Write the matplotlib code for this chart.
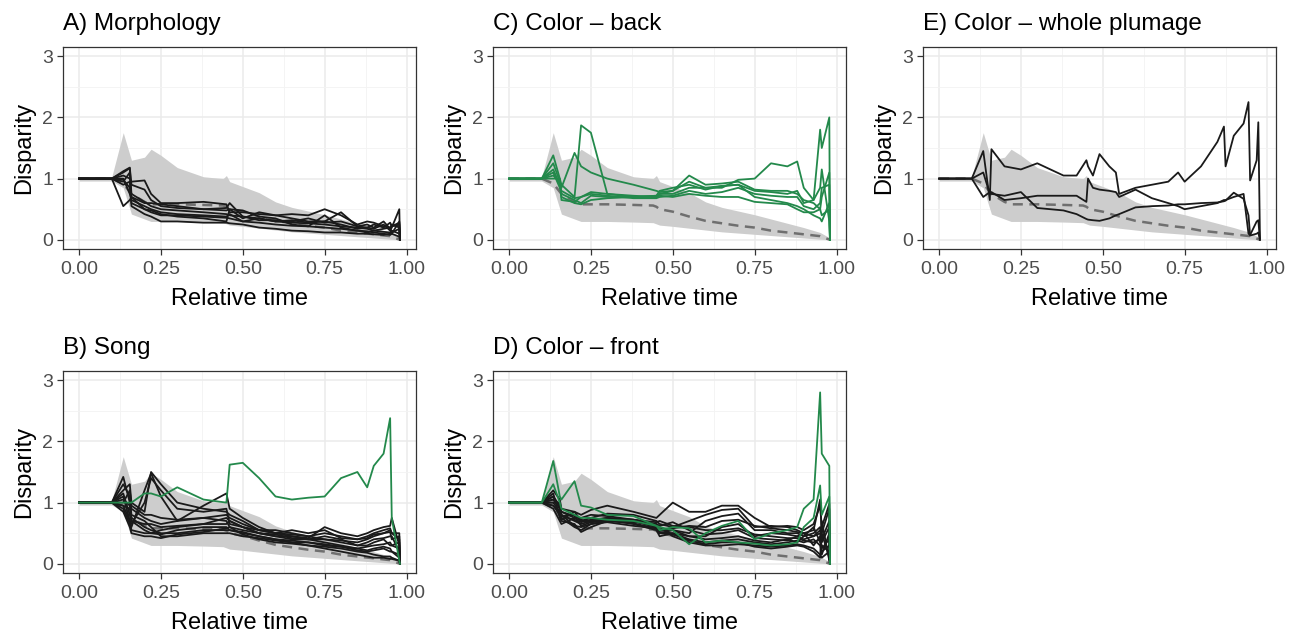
import matplotlib
matplotlib.use("Agg")
import matplotlib.pyplot as plt
from matplotlib.ticker import MultipleLocator

plt.rcParams['font.family'] = ['Liberation Sans', 'DejaVu Sans']

# --- Data ---
# null-model envelope (shared by all panels)
NULL_X = [0, 0.1, 0.135, 0.16, 0.2, 0.22, 0.25, 0.3, 0.38, 0.44, 0.45, 0.46, 0.5, 0.55, 0.6,
          0.65, 0.7, 0.75, 0.8, 0.85, 0.9, 0.95, 0.98]
NULL_MED = [1, 1, 0.92, 0.75, 0.62, 0.58, 0.58, 0.58, 0.57, 0.56, 0.54, 0.5, 0.46, 0.38, 0.31,
            0.27, 0.23, 0.2, 0.15, 0.12, 0.09, 0.06, 0.0]
NULL_HI = [1.03, 1.03, 1.75, 1.3, 1.35, 1.48, 1.38, 1.18, 1.03, 1.0, 1.05, 0.95, 0.87, 0.77, 0.62,
           0.53, 0.47, 0.41, 0.34, 0.27, 0.2, 0.12, 0.03]
NULL_LO = [0.96, 0.96, 0.85, 0.42, 0.34, 0.3, 0.3, 0.3, 0.29, 0.28, 0.26, 0.24, 0.22, 0.19, 0.16,
           0.13, 0.11, 0.09, 0.07, 0.05, 0.03, 0.01, 0.0]

# relative time points for panels A-D
XL = [0, 0.1, 0.135, 0.155, 0.16, 0.2, 0.22, 0.25, 0.3, 0.38, 0.45, 0.46, 0.5, 0.55, 0.6,
      0.65, 0.7, 0.75, 0.8, 0.85, 0.88, 0.9, 0.93, 0.95, 0.955, 0.978, 0.98]

morph_black = [
    [1,1,1.1,1.17,0.75,0.62,0.55,0.5,0.48,0.45,0.42,0.4,0.38,0.35,0.3,0.28,0.27,0.25,0.22,0.2,0.18,0.15,0.13,0.12,0.15,0.1,0.02],
    [1,1,1.05,1.0,0.95,0.97,0.75,0.6,0.6,0.62,0.58,0.45,0.45,0.42,0.4,0.42,0.4,0.5,0.4,0.25,0.3,0.28,0.22,0.2,0.25,0.2,0.05],
    [1,1,0.55,0.65,0.7,0.6,0.6,0.58,0.55,0.5,0.48,0.5,0.35,0.45,0.4,0.35,0.3,0.3,0.45,0.22,0.2,0.18,0.25,0.15,0.2,0.5,0.0],
    [1,1,0.95,1.1,0.6,0.5,0.45,0.4,0.4,0.38,0.36,0.35,0.3,0.28,0.25,0.23,0.22,0.2,0.18,0.15,0.14,0.12,0.1,0.08,0.1,0.05,0.0],
    [1,1,0.9,0.95,0.55,0.42,0.38,0.3,0.3,0.28,0.28,0.27,0.25,0.2,0.18,0.15,0.14,0.12,0.12,0.1,0.1,0.09,0.08,0.1,0.12,0.18,0.0],
    [1,1,1.0,0.75,0.65,0.55,0.5,0.45,0.42,0.4,0.38,0.42,0.3,0.35,0.3,0.32,0.28,0.3,0.25,0.18,0.2,0.25,0.2,0.28,0.22,0.28,0.03],
    [1,1,1.12,1.18,0.9,0.82,0.65,0.55,0.52,0.5,0.52,0.6,0.38,0.32,0.32,0.3,0.35,0.28,0.3,0.22,0.25,0.2,0.3,0.18,0.22,0.25,0.0],
    [1,1,0.98,0.85,0.7,0.5,0.48,0.42,0.38,0.35,0.3,0.5,0.48,0.38,0.35,0.25,0.22,0.4,0.2,0.15,0.12,0.15,0.18,0.2,0.1,0.3,0.0],
]
morph_green = []

song_black = [
    [1,1,1.42,1.0,0.9,0.75,0.7,0.65,0.7,0.95,1.15,0.9,0.75,0.6,0.5,0.45,0.42,0.6,0.5,0.45,0.5,0.55,0.6,0.62,0.75,0.3,0.0],
    [1,1,1.2,1.3,1.0,0.85,1.5,1.3,1.0,0.9,0.85,0.8,0.7,0.55,0.55,0.5,0.45,0.5,0.45,0.4,0.42,0.48,0.5,0.55,0.5,0.5,0.02],
    [1,1,0.9,0.65,0.6,1.2,1.48,1.1,0.7,0.75,0.7,0.6,0.55,0.5,0.45,0.4,0.4,0.4,0.35,0.3,0.35,0.4,0.42,0.45,0.45,0.2,0.0],
    [1,1,1.1,0.7,0.55,0.5,0.5,0.55,0.6,0.65,0.65,0.7,0.6,0.5,0.45,0.45,0.4,0.35,0.3,0.25,0.28,0.3,0.32,0.35,0.3,0.35,0.0],
    [1,1,0.95,0.9,0.75,0.6,0.55,0.5,0.5,0.55,0.55,0.55,0.5,0.45,0.4,0.35,0.35,0.3,0.28,0.22,0.2,0.22,0.25,0.2,0.2,0.15,0.0],
    [1,1,1.3,1.1,0.8,0.7,0.6,0.45,0.45,0.5,0.5,0.5,0.45,0.42,0.38,0.35,0.3,0.28,0.25,0.2,0.18,0.15,0.12,0.12,0.1,0.05,0.0],
    [1,1,0.85,0.6,0.5,0.45,0.45,0.42,0.48,0.52,0.58,0.6,0.48,0.4,0.35,0.33,0.3,0.25,0.2,0.15,0.12,0.1,0.1,0.08,0.08,0.05,0.0],
    [1,1,1.0,1.2,0.95,0.8,0.8,0.75,0.72,0.75,0.8,0.75,0.65,0.55,0.5,0.48,0.45,0.4,0.38,0.35,0.4,0.45,0.5,0.52,0.4,0.45,0.02],
    [1,1,1.05,0.95,0.7,0.65,0.65,0.6,0.62,0.65,0.75,0.7,0.6,0.5,0.48,0.42,0.4,0.45,0.4,0.3,0.3,0.35,0.4,0.3,0.3,0.25,0.0],
    [1,1,0.95,0.7,0.65,1.0,1.4,1.2,0.9,0.85,0.9,0.65,0.6,0.55,0.5,0.55,0.5,0.55,0.42,0.4,0.45,0.5,0.55,0.58,0.5,0.4,0.0],
    [1,1,1.15,0.8,0.7,0.55,0.5,0.48,0.55,0.6,0.6,0.55,0.52,0.45,0.4,0.38,0.35,0.32,0.28,0.25,0.22,0.25,0.28,0.25,0.2,0.1,0.0],
]
song_green = [
    [1,1,1.0,1.0,1.0,1.15,1.15,1.1,1.25,1.05,1.0,1.62,1.65,1.4,1.1,1.05,1.08,1.1,1.4,1.5,1.25,1.6,1.8,2.38,0.75,0.05,0.0],
]

back_black = []
back_green = [
    [1,1,1.38,1.0,0.9,0.7,1.87,1.75,0.75,0.72,0.7,0.75,0.8,0.95,0.85,0.88,0.9,0.8,0.78,0.75,0.8,0.6,0.65,1.8,1.5,2.0,0.0],
    [1,1,1.25,0.95,0.85,1.42,1.2,1.1,1.0,0.9,0.8,0.78,0.8,1.05,0.9,0.92,0.95,0.82,0.8,0.8,0.75,0.65,0.6,0.5,0.7,1.1,0.05],
    [1,1,1.15,0.9,0.75,0.65,0.6,0.72,0.7,0.7,0.72,0.75,0.75,0.85,0.85,0.85,0.98,1.0,1.25,1.2,1.28,0.85,0.65,0.85,1.15,0.3,0.0],
    [1,1,1.1,0.85,0.8,0.68,0.7,0.75,0.72,0.68,0.68,0.7,0.72,0.8,0.75,0.78,0.85,0.75,0.72,0.7,0.7,0.55,0.5,0.6,0.85,0.9,0.02],
    [1,1,1.05,0.95,0.7,0.6,0.58,0.65,0.68,0.7,0.7,0.72,0.7,0.75,0.72,0.7,0.7,0.62,0.6,0.58,0.5,0.45,0.45,0.5,0.4,0.5,0.0],
    [1,1,1.0,1.0,0.65,0.62,0.7,0.78,0.75,0.7,0.72,0.8,0.85,0.9,0.82,0.88,0.9,0.7,0.65,0.6,0.55,0.5,0.4,0.35,0.3,0.6,0.0],
]

front_black = [
    [1,1,1.2,1.05,0.9,0.85,0.8,0.88,0.95,0.85,0.75,0.8,1.0,0.85,0.85,0.95,0.95,0.75,0.6,0.62,0.6,0.55,0.65,0.95,0.6,0.98,0.0],
    [1,1,1.1,0.95,0.85,0.75,0.7,0.75,0.82,0.8,0.7,0.65,0.6,0.7,0.8,0.88,0.9,0.6,0.62,0.6,0.55,0.5,0.55,1.05,0.5,0.9,0.02],
    [1,1,1.05,0.9,0.8,0.7,0.65,0.7,0.75,0.72,0.62,0.55,0.55,0.5,0.7,0.78,0.82,0.55,0.55,0.5,0.5,0.45,0.5,0.6,0.35,0.6,0.0],
    [1,1,1.0,0.85,0.75,0.6,0.55,0.65,0.7,0.7,0.6,0.5,0.55,0.45,0.45,0.6,0.65,0.45,0.5,0.48,0.45,0.4,0.45,0.5,0.25,0.4,0.0],
    [1,1,0.95,0.8,0.72,0.85,0.7,0.7,0.72,0.65,0.55,0.45,0.5,0.4,0.35,0.38,0.4,0.35,0.32,0.35,0.38,0.35,0.4,0.3,0.2,0.3,0.0],
    [1,1,1.15,0.75,0.7,0.65,0.52,0.6,0.7,0.68,0.65,0.6,0.45,0.35,0.3,0.3,0.32,0.3,0.28,0.3,0.32,0.3,0.25,0.15,0.1,0.2,0.0],
    [1,1,0.9,0.7,0.65,0.75,0.75,0.8,0.78,0.72,0.68,0.7,0.62,0.6,0.55,0.55,0.58,0.48,0.45,0.42,0.42,0.38,0.35,0.4,0.5,0.1,0.0],
    [1,1,1.0,1.0,0.8,0.62,0.6,0.65,0.68,0.62,0.58,0.5,0.48,0.38,0.32,0.35,0.35,0.28,0.25,0.28,0.3,0.28,0.2,0.1,0.7,0.05,0.0],
    [1,1,1.1,0.9,0.78,0.72,0.68,0.72,0.75,0.7,0.6,0.55,0.58,0.62,0.6,0.7,0.72,0.62,0.58,0.55,0.52,0.5,0.45,0.55,0.4,0.7,0.0],
    [1,1,0.95,0.85,0.78,0.8,0.72,0.68,0.7,0.66,0.58,0.52,0.5,0.45,0.4,0.42,0.45,0.38,0.35,0.4,0.35,0.45,0.6,0.35,0.3,0.2,0.0],
    [1,1,1.05,0.95,0.85,0.78,0.62,0.68,0.74,0.72,0.65,0.62,0.68,0.55,0.48,0.5,0.55,0.42,0.4,0.38,0.45,0.5,0.3,0.45,0.15,0.5,0.0],
]
front_green = [
    [1,1,1.68,1.1,1.05,1.35,0.95,0.92,0.8,0.78,0.62,0.6,0.55,0.32,0.5,0.62,0.7,0.4,0.5,0.55,0.6,0.9,1.05,2.8,1.8,1.6,0.0],
    [1,1,1.3,1.0,0.9,0.8,0.75,0.75,0.72,0.7,0.62,0.55,0.6,0.58,0.35,0.38,0.35,0.33,0.3,0.32,0.35,0.6,0.75,1.28,0.8,1.1,0.0],
]

# whole plumage has only three clades, use a finer time grid
XE = [0, 0.1, 0.135, 0.155, 0.16, 0.2, 0.25, 0.3, 0.38, 0.42, 0.45, 0.455, 0.47, 0.49, 0.52,
      0.54, 0.55, 0.6, 0.65, 0.7, 0.73, 0.75, 0.8, 0.85, 0.87, 0.875, 0.9, 0.93, 0.945, 0.95,
      0.97, 0.975, 0.98]
whole_black = [
    [1,1,1.45,0.65,1.48,1.2,1.15,1.25,1.05,1.05,1.3,1.2,1.05,1.4,1.2,1.1,0.75,0.85,0.9,0.95,1.1,0.95,1.2,1.6,1.85,1.2,1.7,1.9,2.25,0.97,1.3,1.92,0.02],
    [1,1,1.1,0.75,0.78,0.65,0.68,0.72,0.72,0.72,0.62,1.0,0.85,0.82,0.8,0.78,0.7,0.82,0.68,0.6,0.55,0.5,0.55,0.6,0.65,0.65,0.7,0.75,0.1,0.08,0.3,0.32,0.0],
    [1,1,0.7,0.78,0.75,0.72,0.78,0.52,0.48,0.42,0.34,0.33,0.32,0.31,0.35,0.4,0.42,0.53,0.55,0.56,0.58,0.58,0.6,0.61,0.63,0.64,0.77,0.67,0.4,0.07,0.1,0.12,0.0],
]

# --- Style ---
BLACK = '#1a1a1a'
GREEN = '#23894b'
RIBBON = '#cdcdcd'
MEDIAN = '#6f6f6f'

W, H = 1295, 633
fig = plt.figure(figsize=(W / 100, H / 100), dpi=100)


def make_panel(px_left, px_top, title, xs, black, green):
    ax = fig.add_axes([px_left / W, 1 - (px_top + 202) / H, 353 / W, 202 / H])

    ax.fill_between(NULL_X, NULL_LO, NULL_HI, color=RIBBON, lw=0, zorder=1)
    ax.plot(NULL_X, NULL_MED, color=MEDIAN, lw=1.8, dashes=(4, 2.6), zorder=2)
    for ys in black:
        ax.plot(xs, ys, color=BLACK, lw=1.3, zorder=3)
    for ys in green:
        ax.plot(xs, ys, color=GREEN, lw=1.3, zorder=4)

    ax.set_xlim(-0.049, 1.029)
    ax.set_ylim(-0.15, 3.15)
    ax.xaxis.set_major_locator(MultipleLocator(0.25))
    ax.xaxis.set_minor_locator(MultipleLocator(0.125))
    ax.yaxis.set_major_locator(MultipleLocator(1))
    ax.yaxis.set_minor_locator(MultipleLocator(0.5))
    ax.xaxis.set_major_formatter(plt.FuncFormatter(lambda v, p: f"{v:.2f}"))
    ax.yaxis.set_major_formatter(plt.FuncFormatter(lambda v, p: f"{v:.0f}"))

    ax.grid(which='major', color='#ebebeb', lw=1.1, zorder=0)
    ax.grid(which='minor', color='#f3f3f3', lw=0.6, zorder=0)
    ax.set_axisbelow(True)
    for s in ax.spines.values():
        s.set_color('#333333')
        s.set_linewidth(0.9)
    ax.tick_params(which='major', length=4.5, width=0.9, color='#333333',
                   labelsize=14, labelcolor='#4d4d4d', pad=2.5)
    ax.tick_params(axis='x', which='major', pad=4.5)
    ax.tick_params(which='minor', length=0)

    ax.set_xlabel('Relative time', fontsize=17, color='black', labelpad=7)
    ax.set_ylabel('Disparity', fontsize=17, color='black', labelpad=5)
    ax.set_title(title, loc='left', fontsize=17.5, pad=12)
    return ax


make_panel(63, 47, 'A) Morphology', XL, morph_black, morph_green)
make_panel(493, 47, 'C) Color \u2013 back', XL, back_black, back_green)
make_panel(923, 47, 'E) Color \u2013 whole plumage', XE, whole_black, [])
make_panel(63, 371, 'B) Song', XL, song_black, song_green)
make_panel(493, 371, 'D) Color \u2013 front', XL, front_black, front_green)

fig.savefig('out.png', dpi=100)
